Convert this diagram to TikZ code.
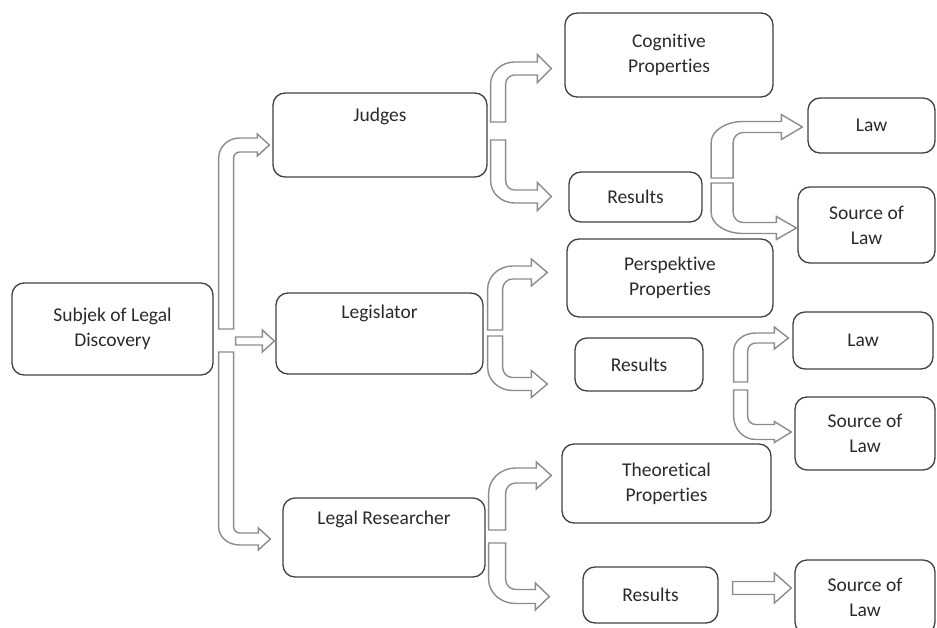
\documentclass[tikz,border=0pt]{standalone}
\usepackage{fontspec}
\setmainfont{Carlito}[Ligatures=NoCommon]
\usepackage{xcolor}
\usetikzlibrary{positioning,calc}

\definecolor{boxline}{HTML}{404040}
\definecolor{arrowline}{HTML}{8C8C8C}
\definecolor{txt}{HTML}{2A2A2A}

% #1 start, #2 tip, #3 stem half width, #4 shaft half width, #5 head half width, #6 head length, #7 inner radius
\newcommand{\bendup}[7]{%
  \pgfmathsetmacro{\outx}{#7+2*#3}%
  \pgfmathsetmacro{\outy}{#7+2*#4}%
  \draw[blockarrow] let \p1=(#1), \p2=(#2) in
    ({\x1-#3pt},\y1) -- ({\x1-#3pt},{\y2-#4pt-#7pt})
    arc[start angle=180, end angle=90, x radius=\outx pt, y radius=\outy pt]
    -- ({\x2-#6pt},{\y2+#4pt}) -- ({\x2-#6pt},{\y2+#5pt}) -- (\x2,\y2)
    -- ({\x2-#6pt},{\y2-#5pt}) -- ({\x2-#6pt},{\y2-#4pt})
    -- ({\x1+#3pt+#7pt},{\y2-#4pt})
    arc[start angle=90, end angle=180, radius=#7pt]
    -- ({\x1+#3pt},\y1) -- cycle;}
\newcommand{\benddown}[7]{%
  \pgfmathsetmacro{\outx}{#7+2*#3}%
  \pgfmathsetmacro{\outy}{#7+2*#4}%
  \draw[blockarrow] let \p1=(#1), \p2=(#2) in
    ({\x1+#3pt},\y1) -- ({\x1+#3pt},{\y2+#4pt+#7pt})
    arc[start angle=180, end angle=270, radius=#7pt]
    -- ({\x2-#6pt},{\y2+#4pt}) -- ({\x2-#6pt},{\y2+#5pt}) -- (\x2,\y2)
    -- ({\x2-#6pt},{\y2-#5pt}) -- ({\x2-#6pt},{\y2-#4pt})
    -- ({\x1+#3pt+#7pt},{\y2-#4pt})
    arc[start angle=270, end angle=180, x radius=\outx pt, y radius=\outy pt]
    -- ({\x1-#3pt},\y1) -- cycle;}
\newcommand{\straightblk}[5]{%
  \draw[blockarrow] let \p1=(#1), \p2=(#2) in
    (\x1,{\y2+#3pt}) -- ({\x2-#5pt},{\y2+#3pt}) -- ({\x2-#5pt},{\y2+#4pt}) -- (\x2,\y2)
    -- ({\x2-#5pt},{\y2-#4pt}) -- ({\x2-#5pt},{\y2-#3pt}) -- (\x1,{\y2-#3pt}) -- cycle;}

\begin{document}
\begin{tikzpicture}[
    x=1pt, y=-1pt,
    box/.style={rectangle, draw=boxline, line width=1.3pt, rounded corners=12pt, align=center,
        inner sep=0pt, text=txt, font=\fontsize{19.5}{25}\selectfont},
    blockarrow/.style={draw=arrowline, line width=1.4pt, fill=white}
]
    \useasboundingbox (0,0) rectangle (937,628);

    \node[box, minimum width=201pt, minimum height=92pt] (subjek) at (112.5,329) {Subjek of Legal\\Discovery};
    \node[box, minimum width=214pt, text height=29pt, text depth=55pt] (judges) at (380,135) {Judges};
    \node[box, minimum width=207pt, text height=26pt, text depth=55pt] (legislator) at (379.5,333.5) {Legislator};
    \node[box, minimum width=202pt, text height=26pt, text depth=53pt] (researcher) at (384,537.5) {Legal Researcher};

    \node[box, minimum width=208pt, minimum height=84pt] (cognitive) at (669,55) {Cognitive\\Properties};
    \node[box, minimum width=133pt, minimum height=50pt] (results1) at (635.5,197) {Results};
    \node[box, minimum width=127pt, minimum height=55pt] (law1) at (871.5,125.5) {Law};
    \node[box, minimum width=137pt, minimum height=76pt] (source1) at (866.5,225) {Source of\\Law};

    \node[box, minimum width=206pt, minimum height=78pt] (perspektive) at (670,278) {Perspektive\\Properties};
    \node[box, minimum width=128pt, minimum height=53pt] (results2) at (639,364.5) {Results};
    \node[box, minimum width=140pt, minimum height=57pt] (law2) at (863,340.5) {Law};
    \node[box, minimum width=140pt, minimum height=73pt] (source2) at (865,433.5) {Source of\\Law};

    \node[box, minimum width=209pt, minimum height=79pt] (theoretical) at (666.5,483.5) {Theoretical\\Properties};
    \node[box, minimum width=135pt, minimum height=56pt] (results3) at (650.5,595) {Results};
    \node[box, minimum width=140pt, minimum height=74pt] (source3) at (865,597) {Source of\\Law};

    \coordinate (subj-up) at ($(subjek.east)+(12.5,0)$);
    \coordinate (subj-mid) at ($(subjek.east)+(22,12)$);
    \coordinate (subj-down) at ($(subjek.east)+(12.5,23)$);
    \coordinate (judg-in) at ($(judges.west)+(-3,10)$);
    \coordinate (legi-in) at ($(legislator.west)+(-1,7.5)$);
    \coordinate (rese-in) at ($(researcher.west)+(-12,1.5)$);

    \coordinate (judg-up) at ($(judges.east)+(10.5,-13)$);
    \coordinate (judg-down) at ($(judges.east)+(10.5,5)$);
    \coordinate (cogn-in) at ($(cognitive.west)+(-13,13.5)$);
    \coordinate (res1-in) at ($(results1.west)+(-17,-0.5)$);
    \coordinate (res1-up) at ($(results1.east)+(19.5,-19)$);
    \coordinate (res1-down) at ($(results1.east)+(19.5,-14)$);
    \coordinate (law1-in) at ($(law1.west)+(-5,1.5)$);
    \coordinate (src1-in) at ($(source1.west)+(-1,3)$);

    \coordinate (legi-up) at ($(legislator.east)+(11.5,-3.5)$);
    \coordinate (legi-down) at ($(legislator.east)+(11.5,2.5)$);
    \coordinate (pers-in) at ($(perspektive.west)+(-19,-5.5)$);
    \coordinate (res2-in) at ($(results2.west)+(-27,19.5)$);
    \coordinate (res2-up) at ($(results2.east)+(37,17.5)$);
    \coordinate (res2-down) at ($(results2.east)+(37,25.5)$);
    \coordinate (law2-in) at ($(law2.west)+(-4,-2.5)$);
    \coordinate (src2-in) at ($(source2.west)+(-3,-1.5)$);

    \coordinate (rese-up) at ($(researcher.east)+(11.5,-7.5)$);
    \coordinate (rese-down) at ($(researcher.east)+(11.5,5.5)$);
    \coordinate (theo-in) at ($(theoretical.west)+(-10,-8)$);
    \coordinate (res3-in) at ($(results3.west)+(-33,1.5)$);
    \coordinate (res3-out) at ($(results3.east)+(14,-7)$);
    \coordinate (src3-in) at ($(source3.west)+(-3,-9)$);

    \bendup{subj-up}{judg-in}{7.5}{7}{11}{12}{6}
    \straightblk{subj-mid}{legi-in}{4}{11}{12}
    \benddown{subj-down}{rese-in}{7.5}{6}{11}{12}{6}

    \bendup{judg-up}{cogn-in}{7.5}{6.5}{14}{14}{9}
    \benddown{judg-down}{res1-in}{7.5}{6.5}{14}{14}{9}
    \bendup{res1-up}{law1-in}{11}{5.5}{12.5}{21}{10}
    \benddown{res1-down}{src1-in}{11}{5.5}{11.5}{20}{10}

    \bendup{legi-up}{pers-in}{7.5}{6.5}{13.5}{16}{10}
    \benddown{legi-down}{res2-in}{7.5}{6.5}{13.5}{16}{10}
    \bendup{res2-up}{law2-in}{7}{5}{11}{14}{8}
    \benddown{res2-down}{src2-in}{7}{7.5}{10.5}{17}{8}

    \bendup{rese-up}{theo-in}{8.5}{7.5}{13.5}{15}{10}
    \benddown{rese-down}{res3-in}{8.5}{7}{13.5}{14}{10}
    \straightblk{res3-out}{src3-in}{6.5}{15}{17}
\end{tikzpicture}
\end{document}
